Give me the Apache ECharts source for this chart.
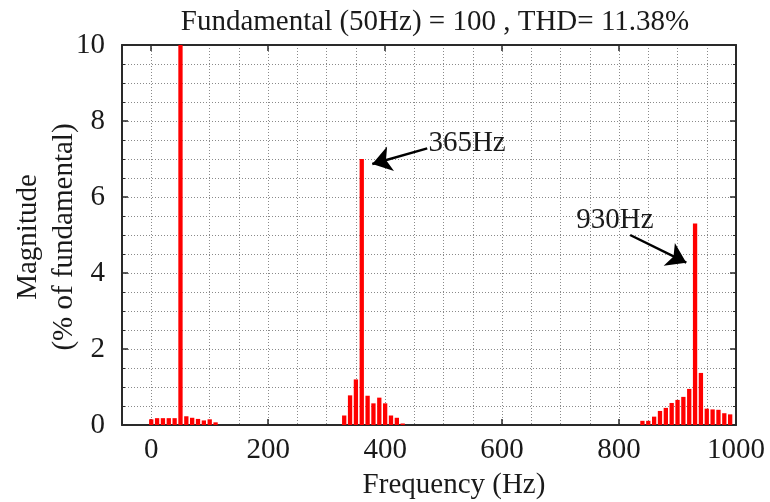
<!DOCTYPE html>
<html><head><meta charset="utf-8">
<script src="https://cdn.jsdelivr.net/npm/echarts@6/dist/echarts.min.js"></script>
<style>html,body{margin:0;padding:0;background:#fff}#c{width:770px;height:502px}</style>
</head><body><div id="c"></div>
<script>
// Harmonic spectrum data (Hz, % of fundamental)
const freqs1 = [0,10,20,30,40,50,60,70,80,90,100,110];
const mags1  = [0.15,0.18,0.18,0.18,0.18,100,0.23,0.19,0.16,0.12,0.15,0.07];
const freqs2 = [330,340,350,360,370,380,390,400,410,420,430];
const mags2  = [0.25,0.78,1.2,7.0,0.77,0.57,0.72,0.57,0.25,0.19,0.04];
const freqs3 = [840,850,860,870,880,890,900,910,920,930,940,950,960,970,980,990];
const mags3  = [0.11,0.11,0.22,0.37,0.45,0.58,0.66,0.74,0.95,5.3,1.37,0.43,0.41,0.40,0.31,0.28];
const xTickLabels = [0,200,400,600,800,1000];
const yTickLabels = [0,2,4,6,8,10];
const titleText = 'Fundamental (50Hz) = 100 , THD= 11.38%';
const yNameLines = ['Magnitude', '(% of fundamental)'];

const freqs = freqs1.concat(freqs2, freqs3);
const mags = mags1.concat(mags2, mags3);
const barData = freqs.map((f, i) => [f, mags[i]]);

const FONT = 'Liberation Serif';
const FS = 29;
const TXT = '#1a1a1a';
const AX = '#2a2a2a';
const gridLine = {show: true, lineStyle: {color: '#8a8a8a', type: [1, 2], width: 1}};

const chart = echarts.init(document.getElementById('c'), null, {renderer: 'canvas'});
const option = {
  animation: false,
  backgroundColor: '#fff',
  title: {
    text: titleText, left: 430, textAlign: 'center', top: 3,
    textStyle: {fontFamily: FONT, fontSize: FS, fontWeight: 'normal', color: TXT}
  },
  graphic: yNameLines.map((t, i) => ({
    type: 'text', x: 28 + i * 36, y: 237, rotation: Math.PI / 2, silent: true,
    style: {text: t, fill: TXT, font: FS + 'px "' + FONT + '"', textAlign: 'center', textVerticalAlign: 'middle',
      align: 'center', verticalAlign: 'middle'}
  })),
  grid: {left: 122, right: 34, top: 45, bottom: 77, containLabel: false, outerBoundsMode: 'none'},
  xAxis: [
    { type: 'value', min: -50, max: 1000, interval: 50, position: 'bottom',
      axisLine: {show: true, onZero: false, lineStyle: {color: AX, width: 2}},
      axisTick: {show: false}, axisLabel: {show: false}, splitLine: gridLine },
    { type: 'value', min: -50, max: 1000, interval: 50, position: 'bottom',
      axisLine: {show: false},
      axisTick: {show: true, inside: true, length: 6, customValues: xTickLabels, lineStyle: {color: AX, width: 1.5}},
      axisLabel: {show: true, customValues: xTickLabels, margin: 11, fontFamily: FONT, fontSize: FS, color: TXT,
        formatter: v => String(v)},
      splitLine: {show: false},
      name: 'Frequency (Hz)', nameLocation: 'middle', nameGap: 46,
      nameTextStyle: {fontFamily: FONT, fontSize: FS, color: TXT, padding: [0, 0, 0, 50]} },
    { type: 'value', min: -50, max: 1000, interval: 50, position: 'top',
      axisLine: {show: true, onZero: false, lineStyle: {color: AX, width: 2}},
      axisTick: {show: true, inside: true, length: 6, customValues: xTickLabels, lineStyle: {color: AX, width: 1.5}},
      axisLabel: {show: false}, splitLine: {show: false} }
  ],
  yAxis: [
    { type: 'value', min: 0, max: 10, interval: 2, position: 'left',
      axisLine: {show: true, onZero: false, lineStyle: {color: AX, width: 2}},
      axisTick: {show: true, inside: true, length: 6, lineStyle: {color: AX, width: 1.5}},
      minorTick: {show: true, splitNumber: 4, length: 3, lineStyle: {color: AX}},
      axisLabel: {margin: 17, fontFamily: FONT, fontSize: FS, color: TXT,
        formatter: v => (yTickLabels.indexOf(v) >= 0 ? String(v) : '')},
      splitLine: gridLine, minorSplitLine: gridLine },
    { type: 'value', min: 0, max: 10, interval: 2, position: 'right',
      axisLine: {show: true, onZero: false, lineStyle: {color: AX, width: 2}},
      axisTick: {show: true, inside: true, length: 6, lineStyle: {color: AX, width: 1.5}},
      minorTick: {show: true, splitNumber: 4, length: 3, lineStyle: {color: AX}},
      axisLabel: {show: false}, splitLine: {show: false} }
  ],
  series: [{
    type: 'bar', xAxisIndex: 0, yAxisIndex: 0, data: barData, barWidth: 4.3, clip: true,
    itemStyle: {color: '#ff0000'},
    markLine: {
      silent: true, symbol: ['none', 'arrow'], symbolSize: 19,
      label: {show: false},
      lineStyle: {color: '#000', width: 2.5, type: 'solid'},
      data: [
        [{coord: [472, 7.28]}, {coord: [378, 6.87]}],
        [{coord: [819, 5.0]}, {coord: [915, 4.27]}]
      ]
    },
    markPoint: {
      silent: true, symbol: 'circle', symbolSize: 0,
      label: {show: true, fontFamily: FONT, fontSize: FS, color: TXT, position: 'right', distance: 0,
        formatter: p => p.name},
      data: [
        {name: '365Hz', coord: [474, 7.42]},
        {name: '930Hz', coord: [727, 5.39]}
      ]
    }
  }]
};
chart.setOption(option);
</script></body></html>
